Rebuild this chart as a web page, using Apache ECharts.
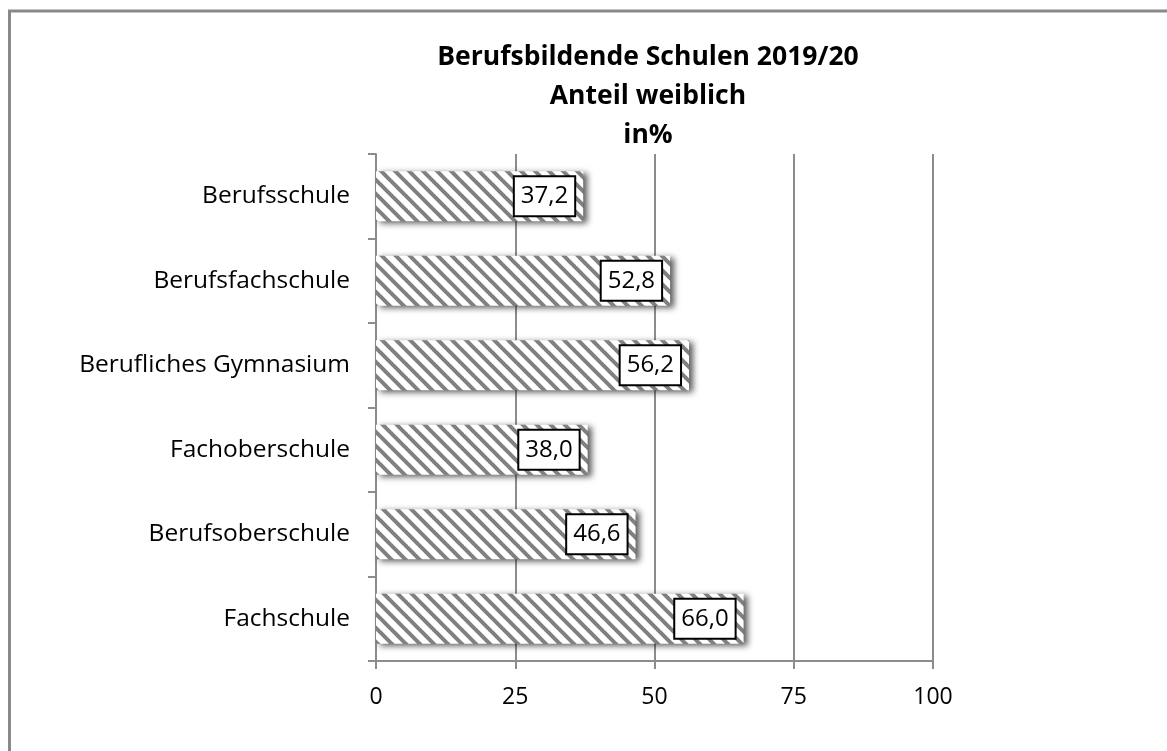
<!DOCTYPE html>
<html>
<head>
<meta charset="utf-8">
<script src="https://cdn.jsdelivr.net/npm/echarts@6/dist/echarts.min.js"></script>
<style>
	html, body { margin: 0; padding: 0; background: #fff; }
	#chart { width: 1167px; height: 751px; }
</style>
</head>
<body>
<div id="chart"></div>
<script>
const categories = ['Berufsschule', 'Berufsfachschule', 'Berufliches Gymnasium', 'Fachoberschule', 'Berufsoberschule', 'Fachschule']
const values = [37.2, 52.8, 56.2, 38.0, 46.6, 66.0]
const xTicks = [0, 25, 50, 75, 100]

const FONT = '"Open Sans", sans-serif'

// diagonal hatch like the Excel pattern fill
function makeHatch() {
	const size = 14
	const c = document.createElement('canvas')
	c.width = size
	c.height = size
	const ctx = c.getContext('2d')
	ctx.fillStyle = '#ffffff'
	ctx.fillRect(0, 0, size, size)
	ctx.strokeStyle = '#808080'
	ctx.lineWidth = 4
	;[-size, 0, size].forEach(function (o) {
		ctx.beginPath()
		ctx.moveTo(o - 1, -1)
		ctx.lineTo(o + size + 1, size + 1)
		ctx.stroke()
	})
	return c
}

const myChart = echarts.init(document.getElementById('chart'))

const option = {
	backgroundColor: '#ffffff',
	animation: false,
	title: {
		text: 'Berufsbildende Schulen 2019/20\nAnteil weiblich\nin%',
		left: 643,
		top: 33,
		textAlign: 'center',
		textStyle: {
			fontFamily: FONT,
			fontSize: 26.5,
			fontWeight: 'bold',
			color: '#000',
			lineHeight: 39,
		},
	},
	graphic: [
		{
			type: 'rect',
			shape: { x: 9.5, y: 11, width: 1300, height: 900 },
			style: { fill: 'none', stroke: '#898989', lineWidth: 3 },
			silent: true,
		},
	],
	grid: {
		left: 376,
		right: 234,
		top: 154,
		bottom: 90,
		containLabel: false,
	},
	xAxis: {
		type: 'value',
		min: 0,
		max: 100,
		interval: 25,
		axisLine: { show: true, lineStyle: { color: '#8c8c8c', width: 2 } },
		axisTick: { show: true, length: 8, lineStyle: { color: '#8c8c8c', width: 2 } },
		axisLabel: {
			margin: 25,
			fontFamily: FONT,
			fontSize: 23,
			color: '#000',
			formatter: function (v) { return xTicks.indexOf(v) >= 0 ? String(v) : '' },
		},
		splitLine: { show: true, lineStyle: { color: '#8c8c8c', width: 2 } },
	},
	yAxis: {
		type: 'category',
		inverse: true,
		data: categories,
		axisLine: { show: true, lineStyle: { color: '#8c8c8c', width: 2 } },
		axisTick: { show: true, length: 8, alignWithLabel: false, lineStyle: { color: '#8c8c8c', width: 2 } },
		axisLabel: {
			margin: 26,
			fontFamily: FONT,
			fontSize: 24.5,
			color: '#000',
		},
	},
	series: [
		{
			type: 'bar',
			data: values,
			barCategoryGap: '41%',
			itemStyle: {
				color: { image: makeHatch(), repeat: 'repeat' },
				shadowBlur: 6,
				shadowOffsetX: 4,
				shadowOffsetY: 2,
				shadowColor: 'rgba(0,0,0,0.65)',
			},
			label: {
				show: true,
				position: 'insideRight',
				distance: 9,
				fontFamily: FONT,
				fontSize: 24,
				color: '#000',
				backgroundColor: '#fff',
				borderColor: '#000',
				borderWidth: 2,
				padding: [8, 6, 6, 6],
				formatter: function (p) { return p.value.toFixed(1).replace('.', ',') },
			},
		},
	],
}

myChart.setOption(option)
</script>
</body>
</html>
